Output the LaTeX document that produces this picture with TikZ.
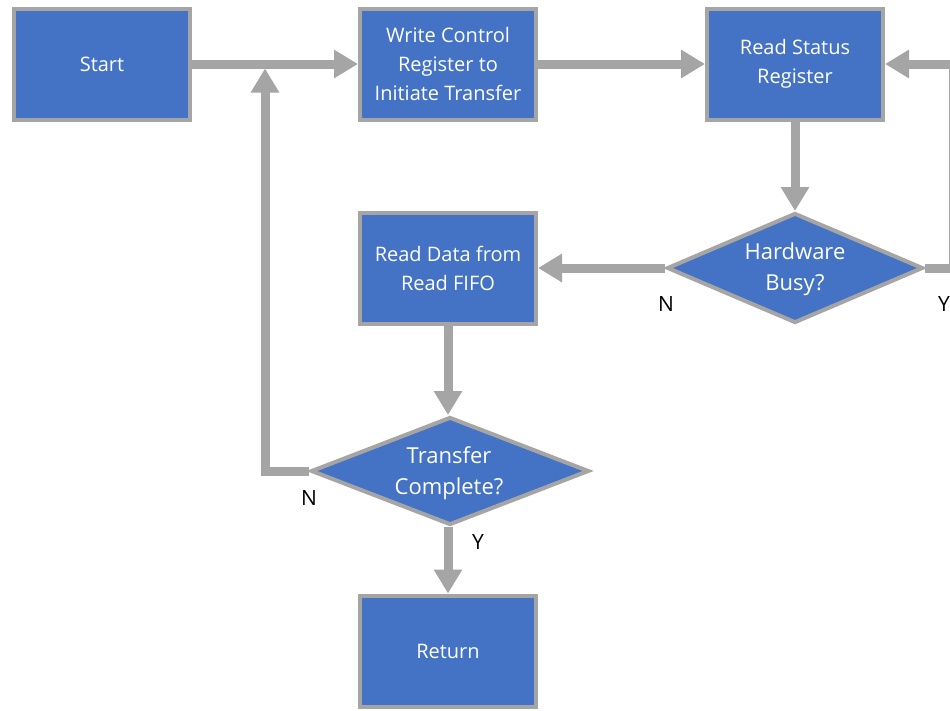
\documentclass[tikz,border=0pt]{standalone}
\usepackage{fontspec}
\setmainfont{Open Sans}
\usetikzlibrary{shapes.geometric,arrows.meta}
\definecolor{boxblue}{HTML}{4472C4}
\definecolor{edgegray}{HTML}{A5A5A5}
\begin{document}
\begin{tikzpicture}[x=1pt,y=-1pt,
  procbox/.style={draw=edgegray,line width=4pt,fill=boxblue,minimum width=176pt,minimum height=111pt,inner sep=0pt,text=white,font=\fontsize{20}{29}\selectfont,align=center},
  decision/.style={draw=edgegray,line width=4pt,fill=boxblue,shape=diamond,inner sep=0pt},
  dtext/.style={text=white,font=\fontsize{22}{31}\selectfont,align=center,inner sep=0pt},
  flow/.style={draw=edgegray,line width=9pt,-{Triangle[length=24pt,width=27pt]}},
  lbl/.style={font=\fontsize{21}{25}\selectfont,text=black,inner sep=0pt}]
\useasboundingbox (0,0) rectangle (950,710);
\clip (0,0) rectangle (950,710);
\fill[white] (0,0) rectangle (950,710);
% nodes
\node[procbox] (start) at (102,64) {Start};
\node[procbox] (wcr) at (448,64) {Write Control\\Register to\\Initiate Transfer};
\node[procbox] (rs) at (795,64) {Read Status\\Register};
\node[decision,minimum width=256pt,minimum height=110pt] (hw) at (795,268) {};
\node[dtext] (hwt) at (795,269) {Hardware\\Busy?};
\node[procbox] (rd) at (448,268) {Read Data from\\Read FIFO};
\node[decision,minimum width=278pt,minimum height=108pt] (tc) at (450,471) {};
\node[dtext] (tct) at (449,473) {Transfer\\Complete?};
\node[procbox] (ret) at (448,651) {Return};
% coordinates
\coordinate (join) at (265,64);
\coordinate (rloop) at (953,268);
% connectors
\draw[flow] (start.east) -- (wcr.west);
\draw[flow] (wcr.east) -- (rs.west);
\draw[flow] (rs.south) -- (hw.north);
\draw[flow] (hw.west) -- (rd.east);
\draw[flow] (rd.south) -- (rd.south |- tc.north);
\draw[flow] (tc.south -| ret.north) -- (ret.north);
\draw[flow,shorten >=4.5pt] (tc.west) -| (join);
\draw[flow] (hw.east) -- (rloop) |- (rs.east);
% labels
\node[lbl] (n1) at (666,304) {N};
\node[lbl] (y1) at (944,304) {Y};
\node[lbl] (n2) at (309,498) {N};
\node[lbl] (y2) at (478,542) {Y};
\end{tikzpicture}
\end{document}
